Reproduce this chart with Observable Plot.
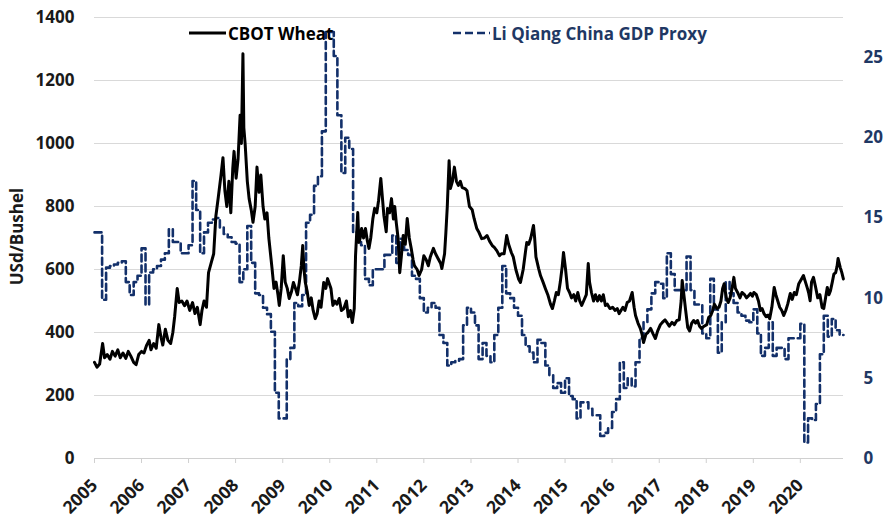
<!DOCTYPE html>
<html><head><meta charset="utf-8">
<script src="https://cdn.jsdelivr.net/npm/d3@7"></script>
<script src="https://cdn.jsdelivr.net/npm/@observablehq/plot@0.6"></script>
<style>
body{margin:0;background:#fff;font-family:"Open Sans",sans-serif;}
#wrap{position:relative;width:887px;height:517px;overflow:hidden;}
.leg{position:absolute;font-weight:700;font-size:17px;display:flex;align-items:center;white-space:nowrap;height:24px;}
.leg svg{margin-right:2px;}
#ylab{position:absolute;width:200px;text-align:center;font-weight:700;font-size:17px;color:#1a1a1a;transform:rotate(-90deg);transform-origin:center;}
</style></head><body><div id="wrap"></div>
<script>
const seriesNames = ["CBOT Wheat", "Li Qiang China GDP Proxy"];
const yLabel = "USd/Bushel";
const leftTicks = [0, 200, 400, 600, 800, 1000, 1200, 1400];
const rightTicks = [0, 5, 10, 15, 20, 25];
const yearTicks = [2005,2006,2007,2008,2009,2010,2011,2012,2013,2014,2015,2016,2017,2018,2019,2020];

const wheatDates = [
"2005-01-01","2005-01-20","2005-02-10","2005-03-05","2005-03-20","2005-04-10","2005-05-01","2005-05-20","2005-06-10","2005-07-01","2005-07-20","2005-08-10","2005-09-01","2005-09-20","2005-10-10","2005-11-01","2005-11-20","2005-12-10",
"2006-01-01","2006-01-20","2006-02-10","2006-03-01","2006-03-15","2006-04-05","2006-04-25","2006-05-15","2006-06-01","2006-06-15","2006-07-05","2006-07-25","2006-08-15","2006-09-01","2006-09-15","2006-10-05","2006-10-20","2006-11-10","2006-12-01","2006-12-20",
"2007-01-10","2007-02-01","2007-02-20","2007-03-10","2007-04-01","2007-04-15","2007-05-01","2007-05-20","2007-06-05","2007-06-25","2007-07-15","2007-08-01","2007-08-20","2007-09-10","2007-09-25","2007-10-10","2007-10-25","2007-11-10","2007-11-25","2007-12-10","2007-12-20",
"2008-01-05","2008-01-20","2008-02-05","2008-02-15","2008-02-27","2008-03-05","2008-03-15","2008-04-01","2008-04-15","2008-05-01","2008-05-15","2008-06-01","2008-06-15","2008-07-01","2008-07-15","2008-08-01","2008-08-15","2008-09-01","2008-09-15","2008-10-10","2008-10-25","2008-11-10","2008-11-25","2008-12-05","2008-12-20",
"2009-01-05","2009-01-20","2009-02-05","2009-02-20","2009-03-10","2009-03-25","2009-04-10","2009-04-25","2009-05-10","2009-05-25","2009-06-05","2009-06-15","2009-06-25","2009-07-10","2009-07-25","2009-08-10","2009-08-25","2009-09-10","2009-09-25","2009-10-10","2009-10-25","2009-11-15","2009-12-01","2009-12-15",
"2010-01-10","2010-01-25","2010-02-10","2010-02-25","2010-03-15","2010-04-01","2010-04-20","2010-05-10","2010-05-25","2010-06-10","2010-06-25","2010-07-10","2010-07-20","2010-08-06","2010-08-15","2010-08-25","2010-09-05","2010-09-20","2010-10-05","2010-10-20","2010-11-01","2010-11-15","2010-12-01","2010-12-15",
"2011-01-01","2011-01-15","2011-02-01","2011-02-15","2011-02-25","2011-03-15","2011-03-25","2011-04-10","2011-04-25","2011-05-10","2011-05-20","2011-06-01","2011-06-15","2011-06-28","2011-07-10","2011-07-25","2011-08-10","2011-08-25","2011-09-10","2011-09-25","2011-10-10","2011-10-20","2011-11-10","2011-11-25","2011-12-15",
"2012-01-01","2012-01-20","2012-02-05","2012-02-20","2012-03-15","2012-04-01","2012-04-20","2012-05-10","2012-05-20","2012-06-10","2012-06-20","2012-07-01","2012-07-15","2012-07-25","2012-08-10","2012-08-25","2012-09-10","2012-09-25","2012-10-10","2012-10-25","2012-11-15","2012-12-01","2012-12-20",
"2013-01-10","2013-01-25","2013-02-15","2013-03-01","2013-03-25","2013-04-15","2013-05-05","2013-05-25","2013-06-15","2013-07-01","2013-07-20","2013-08-10","2013-08-25","2013-09-15","2013-10-05","2013-10-20","2013-11-10","2013-11-25","2013-12-15",
"2014-01-05","2014-01-20","2014-02-10","2014-03-01","2014-03-10","2014-03-25","2014-04-10","2014-05-01","2014-05-10","2014-05-20","2014-06-10","2014-06-25","2014-07-15","2014-08-01","2014-08-20","2014-09-10","2014-09-25","2014-10-10","2014-10-25","2014-11-10","2014-11-25","2014-12-10","2014-12-20",
"2015-01-05","2015-01-20","2015-02-05","2015-02-20","2015-03-10","2015-03-25","2015-04-10","2015-04-25","2015-05-10","2015-05-25","2015-06-15","2015-06-30","2015-07-10","2015-07-25","2015-08-10","2015-08-25","2015-09-10","2015-09-25","2015-10-10","2015-10-25","2015-11-10","2015-11-25","2015-12-15",
"2016-01-05","2016-01-25","2016-02-10","2016-02-25","2016-03-10","2016-03-25","2016-04-10","2016-04-27","2016-05-15","2016-06-05","2016-06-20","2016-07-01","2016-07-20","2016-08-07","2016-08-20","2016-09-01","2016-09-20","2016-10-05","2016-10-26","2016-11-15","2016-12-02","2016-12-20",
"2017-01-10","2017-01-25","2017-02-15","2017-03-01","2017-03-20","2017-04-10","2017-04-28","2017-05-18","2017-06-05","2017-06-20","2017-06-28","2017-07-10","2017-07-25","2017-08-10","2017-08-25","2017-09-10","2017-09-25","2017-10-10","2017-10-25","2017-11-10","2017-11-25","2017-12-15",
"2018-01-05","2018-01-20","2018-02-05","2018-02-20","2018-03-05","2018-03-25","2018-04-10","2018-04-25","2018-05-08","2018-05-20","2018-06-05","2018-06-20","2018-07-05","2018-07-20","2018-08-03","2018-08-15","2018-09-01","2018-09-20","2018-10-05","2018-10-25","2018-11-10","2018-11-25","2018-12-10","2018-12-25",
"2019-01-05","2019-01-25","2019-02-10","2019-02-25","2019-03-10","2019-03-25","2019-04-10","2019-04-25","2019-05-08","2019-05-25","2019-06-12","2019-06-25","2019-07-10","2019-07-25","2019-08-10","2019-08-25","2019-09-10","2019-09-25","2019-10-15","2019-10-30","2019-11-15","2019-12-01","2019-12-20",
"2020-01-10","2020-01-25","2020-02-10","2020-02-25","2020-03-05","2020-03-17","2020-03-28","2020-04-12","2020-04-28","2020-05-15","2020-06-01","2020-06-18","2020-07-01","2020-07-15","2020-07-28","2020-08-10","2020-08-22","2020-09-05","2020-09-17","2020-10-01","2020-10-12","2020-10-20","2020-11-06","2020-11-18","2020-11-30"
];
const wheatValues = [
305,290,300,365,320,330,315,340,325,345,320,335,318,340,325,305,298,330,
340,335,360,375,345,365,350,425,385,360,410,375,365,400,450,540,495,500,485,500,
470,495,460,480,425,470,500,480,590,620,650,770,830,900,955,850,800,880,780,920,975,
890,950,1090,1000,1285,1050,1000,880,825,790,750,800,925,845,900,800,760,780,700,603,540,560,520,486,540,
644,560,540,508,530,559,540,520,560,612,676,600,559,530,486,510,470,444,460,500,480,559,540,571,
540,486,500,490,508,470,476,500,450,470,432,476,644,781,686,700,730,700,730,690,667,700,760,794,
780,820,889,820,771,720,794,780,825,760,800,749,700,590,640,708,680,762,700,667,630,612,600,581,600,
644,630,612,640,667,650,635,620,603,650,717,800,945,857,880,925,880,867,880,860,857,850,800,
790,762,730,720,698,700,708,690,676,670,660,644,650,650,708,680,654,640,600,
570,559,600,660,686,680,700,740,700,640,603,580,559,540,520,490,476,500,527,520,560,610,654,
600,540,527,510,520,500,527,500,486,500,520,619,560,527,500,520,500,517,500,520,486,490,476,
480,470,476,460,470,480,470,495,500,527,480,454,430,413,395,368,395,400,413,395,381,405,
425,432,440,432,420,432,425,438,440,500,565,524,470,416,405,430,438,430,438,420,413,420,
425,448,454,470,490,476,480,500,540,555,511,495,510,540,575,540,527,510,527,520,510,517,524,515,
527,520,500,470,476,460,450,455,444,480,543,520,500,480,470,454,470,490,524,505,527,520,555,
570,581,560,540,527,501,560,575,545,510,520,479,476,510,543,520,533,560,585,590,610,635,606,590,570
];

// Monthly proxy values, one per month from January 2005; last entry is the December 2020 end point
const gdpValues = [
14.1,14.1,9.9,11.9,12.0,12.1,12.2,12.3,11.0,10.2,11.0,11.4,
13.1,9.6,11.6,11.8,12.0,12.4,12.8,14.3,13.5,13.5,12.8,12.8,
13.3,17.3,15.5,12.8,14.1,14.7,14.9,15.0,14.4,14.0,13.8,13.5,
13.4,11.0,11.8,14.5,12.2,10.3,10.2,9.4,9.0,7.9,4.1,2.5,
2.5,6.2,6.9,9.7,9.5,10.2,14.7,15.2,17.0,17.6,20.4,26.6,
26.6,25.1,21.4,17.8,20.0,19.3,14.1,13.5,13.3,11.2,10.8,11.8,
11.8,11.8,12.7,12.7,13.9,12.2,13.7,13.0,12.7,11.4,11.2,10.0,
9.1,9.4,9.7,9.4,7.7,7.2,5.8,6.0,6.1,6.2,8.3,9.4,
9.1,8.3,6.2,7.2,6.4,6.0,7.7,9.4,12.0,10.3,10.0,9.4,
8.9,7.7,7.0,6.6,6.0,7.4,7.2,5.8,5.2,4.4,4.7,4.1,
5.0,3.9,3.7,2.5,3.5,3.5,3.1,2.7,2.7,1.4,1.6,1.9,
2.9,3.7,6.0,4.4,5.0,4.5,6.0,7.5,8.5,9.3,10.3,11.0,
10.9,10.0,12.8,11.5,10.5,10.5,10.5,12.6,10.5,9.6,9.6,7.8,
7.5,11.2,9.3,6.6,8.5,11.0,10.3,9.7,9.1,8.9,8.6,8.5,
9.3,7.8,6.4,6.9,8.5,6.4,6.9,6.9,6.2,7.5,7.5,7.5,
8.4,1.0,2.5,2.4,3.4,6.5,8.9,7.6,8.7,8.0,7.7,7.7
];

const LEFT_MAX = 1400, RIGHT_MAX = 27.5, k = LEFT_MAX / RIGHT_MAX;
const navy = "#13306a", navyText = "#1f3864", ink = "#1a1a1a";

const wheat = wheatDates.map((d, i) => ({date: new Date(d + "T00:00:00Z"), v: wheatValues[i]}));
const gdp = gdpValues.map((v, i) => ({date: new Date(Date.UTC(2005, i, 1)), v: v * k}));
const yearDates = yearTicks.map(y => new Date(Date.UTC(y, 0, 1)));

const chart = Plot.plot({
  width: 887, height: 517,
  marginLeft: 94, marginRight: 44, marginTop: 17, marginBottom: 59,
  style: {fontFamily: "'Open Sans', sans-serif", fontSize: "17px", fontWeight: 700, background: "transparent", color: ink},
  x: {type: "utc", domain: [new Date(Date.UTC(2005,0,1)), new Date(Date.UTC(2020,11,1))]},
  y: {domain: [0, LEFT_MAX]},
  marks: [
    Plot.gridY(leftTicks.filter(t => t > 0), {stroke: "#d9d9d9", strokeOpacity: 1, strokeWidth: 1.2}),
    Plot.ruleY([0], {stroke: "#d0d0d0", strokeWidth: 1.2}),
    Plot.axisY(leftTicks, {anchor: "left", tickSize: 0, tickPadding: 20, tickFormat: d => String(d), fill: ink, label: null}),
    Plot.axisY(rightTicks.map(t => t * k), {anchor: "right", tickSize: 0, tickPadding: 20, tickFormat: d => String(Math.round(d / k)), fill: navyText, label: null}),
    Plot.axisX(yearDates, {tickSize: 5, tickFormat: () => "", stroke: "#d0d0d0", label: null}),
    Plot.axisX(yearDates, {tickFormat: d => String(d.getUTCFullYear()), tickRotate: -45, tickSize: 0, tickPadding: 24, fontSize: 17.5, fill: ink, label: null}),
    Plot.lineY(gdp, {x: "date", y: "v", stroke: navy, strokeWidth: 2.6, strokeDasharray: "7,4", curve: "step-after"}),
    Plot.lineY(wheat, {x: "date", y: "v", stroke: "#000", strokeWidth: 3, strokeLinejoin: "round"})
  ]
});

const wrap = document.getElementById("wrap");
wrap.appendChild(chart);

const l1 = document.createElement("div");
l1.className = "leg";
l1.style.left = "188px"; l1.style.top = "21px"; l1.style.color = "#000";
l1.innerHTML = `<svg width="38" height="12"><line x1="1" y1="6" x2="38" y2="6" stroke="#000" stroke-width="3"/></svg><span>${seriesNames[0]}</span>`;
wrap.appendChild(l1);

const l2 = document.createElement("div");
l2.className = "leg";
l2.style.left = "452px"; l2.style.top = "21px"; l2.style.color = navyText;
l2.innerHTML = `<svg width="38" height="12"><line x1="1" y1="6" x2="38" y2="6" stroke="${navy}" stroke-width="2.6" stroke-dasharray="8,4"/></svg><span>${seriesNames[1]}</span>`;
wrap.appendChild(l2);

const yl = document.createElement("div");
yl.id = "ylab";
yl.textContent = yLabel;
yl.style.left = (16 - 100) + "px";
yl.style.top = (237 - 12) + "px";
wrap.appendChild(yl);
</script>
</body></html>
